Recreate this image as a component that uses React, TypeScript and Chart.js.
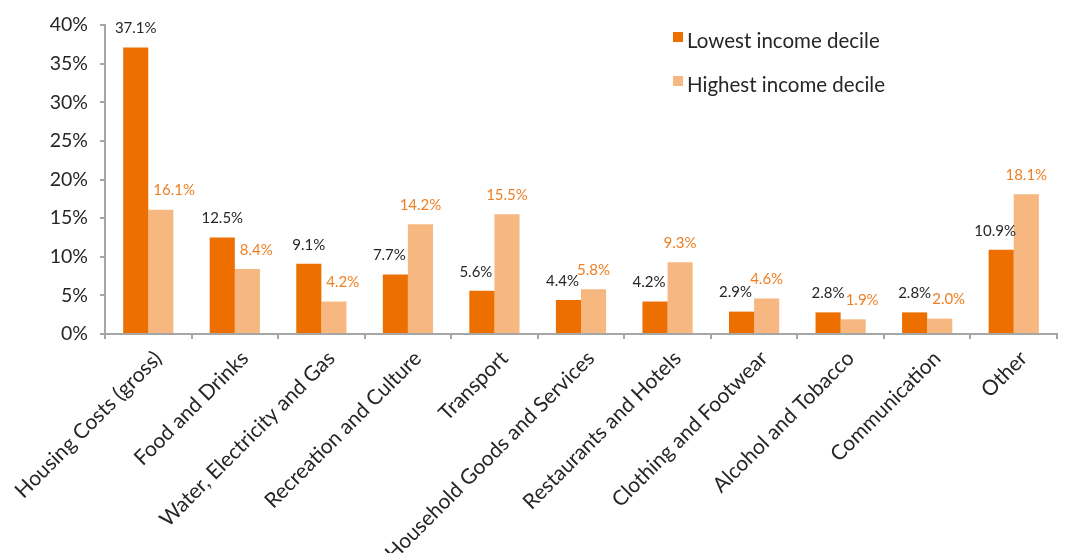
import React, { useEffect, useRef } from 'react';
import { Chart, registerables } from 'chart.js';

Chart.register(...registerables);

const categories = [
  'Housing Costs (gross)',
  'Food and Drinks',
  'Water, Electricity and Gas',
  'Recreation and Culture',
  'Transport',
  'Household Goods and Services',
  'Restaurants and Hotels',
  'Clothing and Footwear',
  'Alcohol and Tobacco',
  'Communication',
  'Other',
];
const seriesNames = ['Lowest income decile', 'Highest income decile'];
const lowestIncome = [37.1, 12.5, 9.1, 7.7, 5.6, 4.4, 4.2, 2.9, 2.8, 2.8, 10.9];
const highestIncome = [16.1, 8.4, 4.2, 14.2, 15.5, 5.8, 9.3, 4.6, 1.9, 2.0, 18.1];
const yTicks = [0, 5, 10, 15, 20, 25, 30, 35, 40];

const barColors = ['#EC6F00', '#F6B880'];
const labelColors = ['#262626', '#EE7F24'];
const FONT = 'Lato, "Open Sans", sans-serif';
const TEXT = '#262626';
const AXIS = '#A6A6A6';

const dataLabelPlugin = {
  id: 'dataLabels',
  afterDatasetsDraw(chart: any) {
    const ctx = chart.ctx;
    ctx.save();
    ctx.font = `15px ${FONT}`;
    ctx.textAlign = 'center';
    ctx.textBaseline = 'middle';
    const low = chart.getDatasetMeta(0).data;
    chart.data.datasets.forEach((ds: any, i: number) => {
      const meta = chart.getDatasetMeta(i);
      ctx.fillStyle = labelColors[i];
      meta.data.forEach((bar: any, j: number) => {
        const v = ds.data[j] as number;
        const text = v.toFixed(1) + '%';
        const w = ctx.measureText(text).width;
        let x = bar.x;
        const other = i === 0 ? highestIncome[j] : lowestIncome[j];
        if (i === 1 && other > v) {
          // keep the label clear of the taller neighbouring bar
          const darkRight = low[j].x + low[j].width / 2;
          x = Math.max(x, darkRight + 5 + w / 2);
        } else if (i === 0 && other > v) {
          x = bar.x - 6;
        }
        ctx.fillText(text, x, bar.y - 19);
      });
    });
    ctx.restore();
  },
};

const legendPlugin = {
  id: 'customLegend',
  afterDraw(chart: any) {
    const ctx = chart.ctx;
    ctx.save();
    ctx.font = `20.5px ${FONT}`;
    ctx.textAlign = 'left';
    ctx.textBaseline = 'middle';
    chart.data.datasets.forEach((ds: any, i: number) => {
      const y = 41 + i * 44;
      ctx.fillStyle = ds.backgroundColor;
      ctx.fillRect(673, y - 9, 10, 10);
      ctx.fillStyle = TEXT;
      ctx.fillText(ds.label, 687, y);
    });
    ctx.restore();
  },
};

export default function App() {
  const ref = useRef<HTMLCanvasElement | null>(null);

  useEffect(() => {
    if (!ref.current) return;
    const chart = new Chart(ref.current, {
      type: 'bar',
      data: {
        labels: categories,
        datasets: [
          {
            label: seriesNames[0],
            data: lowestIncome,
            backgroundColor: barColors[0],
            categoryPercentage: 0.58,
            barPercentage: 1.0,
          },
          {
            label: seriesNames[1],
            data: highestIncome,
            backgroundColor: barColors[1],
            categoryPercentage: 0.58,
            barPercentage: 1.0,
          },
        ],
      },
      options: {
        animation: false,
        responsive: false,
        devicePixelRatio: 1,
        layout: { padding: { left: 8, right: 8, top: 25, bottom: 0 } },
        plugins: {
          legend: { display: false },
          tooltip: { enabled: false },
        },
        scales: {
          x: {
            border: { display: true, color: AXIS, width: 2 },
            grid: {
              display: true,
              drawOnChartArea: false,
              drawTicks: true,
              tickLength: 5,
              color: AXIS,
              lineWidth: 2,
            },
            ticks: {
              autoSkip: false,
              maxRotation: 45,
              minRotation: 45,
              padding: 7,
              labelOffset: 10,
              color: TEXT,
              font: { family: FONT, size: 21 },
            },
            afterFit(scale: any) {
              scale.height = 219;
              scale.paddingLeft = 0;
              scale.paddingRight = 0;
            },
          },
          y: {
            min: 0,
            max: 40,
            afterBuildTicks(scale: any) {
              scale.ticks = yTicks.map((v) => ({ value: v }));
            },
            border: { display: true, color: AXIS, width: 2 },
            grid: {
              display: true,
              drawOnChartArea: false,
              drawTicks: true,
              tickLength: 5,
              color: AXIS,
              lineWidth: 2,
            },
            ticks: {
              padding: 12,
              color: TEXT,
              font: { family: FONT, size: 19.5 },
              callback: (v: any) => v + '%',
            },
            afterFit(scale: any) {
              scale.width = 97;
              scale.paddingTop = 0;
              scale.paddingBottom = 0;
            },
          },
        },
      },
      plugins: [dataLabelPlugin, legendPlugin],
    });
    return () => chart.destroy();
  }, []);

  return (
    <div style={{ position: 'absolute', left: 0, top: 0, width: 1065, height: 553, background: '#fff' }}>
      <canvas ref={ref} width={1065} height={553} />
    </div>
  );
}
